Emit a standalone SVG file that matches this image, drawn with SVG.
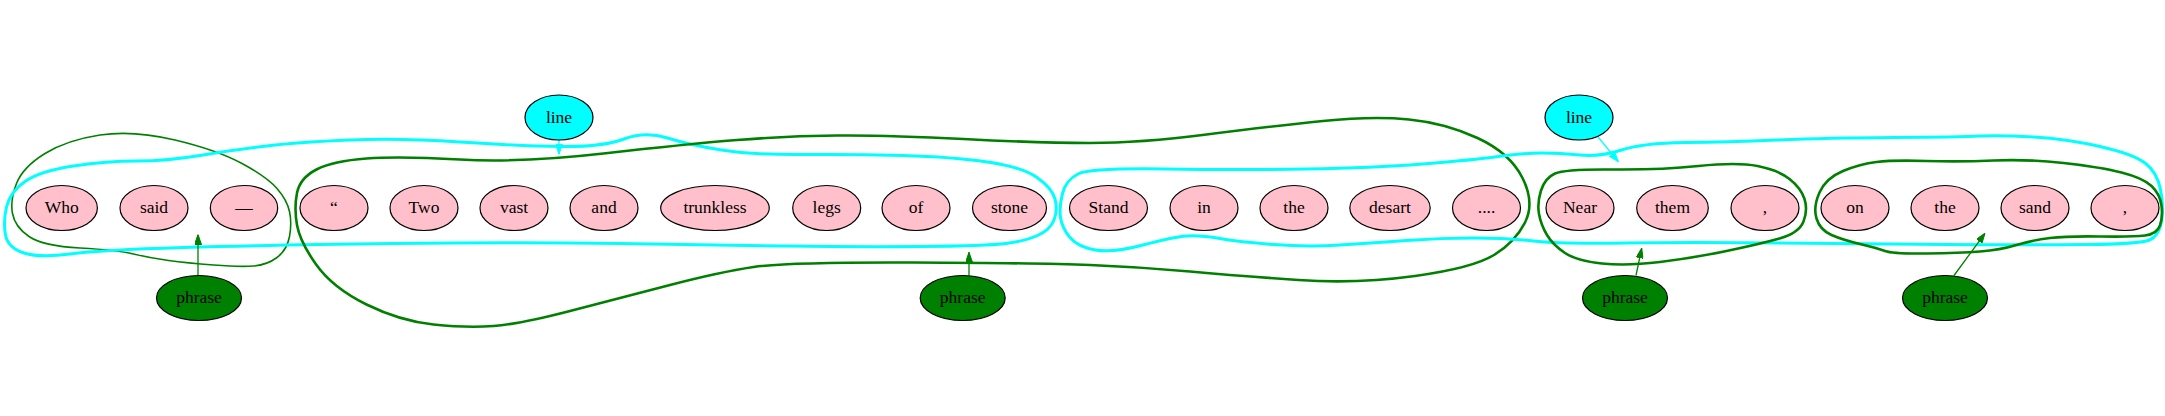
<svg xmlns="http://www.w3.org/2000/svg" width="2165" height="416" viewBox="0 0 2165 416">
<style>
text{font-family:"Liberation Serif","Times New Roman",serif;font-size:17.5px;text-anchor:middle;fill:#000}
.w ellipse{fill:#ffc0cb;stroke:#000;stroke-width:1.2}
.l ellipse{fill:#00ffff;stroke:#000;stroke-width:1.2}
.p ellipse{fill:#008000;stroke:#000;stroke-width:1.2}
.hc{fill:none;stroke:#00ffff;stroke-width:3}
.hg{fill:none;stroke:#008000;stroke-width:2.6}
.hg1{fill:none;stroke:#008000;stroke-width:1.6}
.eg{stroke:#008000;stroke-width:1.3;fill:none}
.ec{stroke:#00ffff;stroke-width:1.3;fill:none}
</style>
<defs>
<marker id="ag" viewBox="0 0 10 7" markerWidth="10" markerHeight="7" refX="10" refY="3.5" orient="auto" markerUnits="userSpaceOnUse"><path d="M0,0 L10,3.5 L0,7 z" fill="#008000" stroke="#008000"/></marker>
<marker id="ac" viewBox="0 0 10 7" markerWidth="10" markerHeight="7" refX="10" refY="3.5" orient="auto" markerUnits="userSpaceOnUse"><path d="M0,0 L10,3.5 L0,7 z" fill="#00ffff" stroke="#00ffff"/></marker>
</defs>
<g id="hulls">
<path class="hg1" d="M16.5,183.5 Q23,167 45,153.5 Q67,140 100,135 Q133,130 175,140 Q217,150 242,163.5 Q267,177 277,188.5 Q287,200 289.5,211.5 Q292,223 289.5,236.5 Q287,250 277,257.5 Q267,265 253.5,266 Q240,267 213.5,265 Q187,263 168.5,260.5 Q150,258 133.5,254 Q117,250 80,248 Q43,246 29,236.5 Q15,227 12.5,213.5 Q10,200 16.5,183.5 Z"/>
<path class="hc" d="M6.5,207 Q10,192 25,181.5 Q40,171 73.5,166 Q107,161 137,161 Q167,161 200,155.5 Q233,150 266.5,146 Q300,142 350,140 Q400,138 460,142 Q520,146 561.5,146.5 Q603,147 624,139 Q645,131 667.5,138 Q690,145 721.5,150 Q753,155 803,154.5 Q853,154 903,155.5 Q953,157 987.5,162 Q1022,167 1037,177.5 Q1052,188 1055,199 Q1058,210 1054,220 Q1050,230 1037.5,235.5 Q1025,241 1006,243.5 Q987,246 920,246.5 Q853,247 786.5,246 Q720,245 620,243.5 Q520,242 393.5,243.5 Q267,245 183.5,247.5 Q100,250 70,254 Q40,258 24,253 Q8,248 5.5,235 Q3,222 6.5,207 Z"/>
<path class="hg" d="M297,193 Q300,178 316.5,169.5 Q333,161 366.5,158.5 Q400,156 460,159.5 Q520,163 603.5,153.5 Q687,144 737,140 Q787,136 837,135.5 Q887,135 963.5,139 Q1040,143 1090,143 Q1140,143 1206.5,134.5 Q1273,126 1323,121 Q1373,116 1409,119.5 Q1445,123 1477.5,138 Q1510,153 1522.5,178 Q1535,203 1525,222.5 Q1515,242 1494,255 Q1473,268 1415,276 Q1357,284 1298.5,280 Q1240,276 1190,271.5 Q1140,267 1090,265 Q1040,263 913.5,262.5 Q787,262 753.5,267 Q720,272 670,285 Q620,298 570,311 Q520,324 493.5,326 Q467,328 433.5,324.5 Q400,321 366.5,304.5 Q333,288 316.5,265 Q300,242 297,225 Q294,208 297,193 Z"/>
<path class="hc" d="M1062.5,193.5 Q1066,180 1078,174 Q1090,168 1165,169 Q1240,170 1306.5,169 Q1373,168 1423,164 Q1473,160 1498,156.5 Q1523,153 1541.5,153 Q1560,153 1580,155 Q1600,157 1621.5,150 Q1643,143 1685,142.5 Q1727,142 1777,140 Q1827,138 1893.5,137.5 Q1960,137 1980,136 Q2000,135 2033.5,137 Q2067,139 2100,146.5 Q2133,154 2145,163 Q2157,172 2160.5,189.5 Q2164,207 2161.5,221.5 Q2159,236 2149.5,240 Q2140,244 2086.5,244.5 Q2033,245 1946.5,244.5 Q1860,244 1776.5,243 Q1693,242 1626.5,243 Q1560,244 1533.5,241 Q1507,238 1473.5,238 Q1440,238 1406.5,240.5 Q1373,243 1340,245 Q1307,247 1273.5,244.5 Q1240,242 1220,238.5 Q1200,235 1186.5,236 Q1173,237 1143,245 Q1113,253 1095.5,250 Q1078,247 1070,237.5 Q1062,228 1060.5,217.5 Q1059,207 1062.5,193.5 Z"/>
<path class="hg" d="M1541,190.5 Q1545,178 1555,173.5 Q1565,169 1612.5,169.5 Q1660,170 1698.5,166 Q1737,162 1757.5,166 Q1778,170 1789.5,179 Q1801,188 1804.5,199 Q1808,210 1803.5,221.5 Q1799,233 1779.5,238.5 Q1760,244 1726.5,251 Q1693,258 1660,262 Q1627,266 1602,263.5 Q1577,261 1565,253 Q1553,245 1547,235 Q1541,225 1539,214 Q1537,203 1541,190.5 Z"/>
<path class="hg" d="M1819.5,192.5 Q1826,178 1843,171 Q1860,164 1876.5,162 Q1893,160 1926.5,161 Q1960,162 1993.5,160.5 Q2027,159 2063.5,163 Q2100,167 2121.5,172.5 Q2143,178 2151.5,186 Q2160,194 2161.5,205.5 Q2163,217 2160,225.5 Q2157,234 2145,235.5 Q2133,237 2100,236.5 Q2067,236 2050,238 Q2033,240 2016.5,245 Q2000,250 1980,251.5 Q1960,253 1926.5,253.5 Q1893,254 1885,251 Q1877,248 1860,244 Q1843,240 1831.5,235 Q1820,230 1816.5,218.5 Q1813,207 1819.5,192.5 Z"/>
</g>
<g id="connectors">
<line class="eg" x1="198" y1="275.5" x2="198" y2="234.5" marker-end="url(#ag)"/>
<line class="eg" x1="969" y1="275.5" x2="969" y2="252.3" marker-end="url(#ag)"/>
<line class="eg" x1="1636" y1="275.5" x2="1641.7" y2="248.3" marker-end="url(#ag)"/>
<line class="eg" x1="1954" y1="275.5" x2="1985" y2="233.3" marker-end="url(#ag)"/>
<line class="ec" x1="559" y1="140" x2="559" y2="154.3" marker-end="url(#ac)"/>
<line class="ec" x1="1598" y1="137" x2="1618.3" y2="161.7" marker-end="url(#ac)"/>
</g>
<g id="n_who" class="w"><ellipse cx="61.7" cy="208" rx="35.7" ry="22.5"/><text x="61.7" y="213">Who</text></g>
<g id="n_said" class="w"><ellipse cx="154" cy="208" rx="34" ry="22.5"/><text x="154" y="213">said</text></g>
<g id="n_dash" class="w"><ellipse cx="244" cy="208" rx="33.7" ry="22.5"/><text x="244" y="213">—</text></g>
<g id="n_quote" class="w"><ellipse cx="334" cy="208" rx="34" ry="22.5"/><text x="334" y="213">“</text></g>
<g id="n_two" class="w"><ellipse cx="424" cy="208" rx="34" ry="22.5"/><text x="424" y="213">Two</text></g>
<g id="n_vast" class="w"><ellipse cx="514" cy="208" rx="34" ry="22.5"/><text x="514" y="213">vast</text></g>
<g id="n_and" class="w"><ellipse cx="604" cy="208" rx="34" ry="22.5"/><text x="604" y="213">and</text></g>
<g id="n_trunkless" class="w"><ellipse cx="715" cy="208" rx="54.3" ry="22.5"/><text x="715" y="213">trunkless</text></g>
<g id="n_legs" class="w"><ellipse cx="826.7" cy="208" rx="34" ry="22.5"/><text x="826.7" y="213">legs</text></g>
<g id="n_of" class="w"><ellipse cx="916" cy="208" rx="34" ry="22.5"/><text x="916" y="213">of</text></g>
<g id="n_stone" class="w"><ellipse cx="1009.5" cy="208" rx="37" ry="22.5"/><text x="1009.5" y="213">stone</text></g>
<g id="n_stand" class="w"><ellipse cx="1108.5" cy="208" rx="39" ry="22.5"/><text x="1108.5" y="213">Stand</text></g>
<g id="n_in" class="w"><ellipse cx="1204" cy="208" rx="34" ry="22.5"/><text x="1204" y="213">in</text></g>
<g id="n_the1" class="w"><ellipse cx="1294" cy="208" rx="34" ry="22.5"/><text x="1294" y="213">the</text></g>
<g id="n_desart" class="w"><ellipse cx="1390" cy="208" rx="40.2" ry="22.5"/><text x="1390" y="213">desart</text></g>
<g id="n_dots" class="w"><ellipse cx="1486.5" cy="208" rx="34" ry="22.5"/><text x="1486.5" y="213">....</text></g>
<g id="n_near" class="w"><ellipse cx="1580" cy="208" rx="34" ry="22.5"/><text x="1580" y="213">Near</text></g>
<g id="n_them" class="w"><ellipse cx="1672.5" cy="208" rx="35.8" ry="22.5"/><text x="1672.5" y="213">them</text></g>
<g id="n_comma1" class="w"><ellipse cx="1765" cy="208" rx="34" ry="22.5"/><text x="1765" y="213">,</text></g>
<g id="n_on" class="w"><ellipse cx="1855" cy="208" rx="34" ry="22.5"/><text x="1855" y="213">on</text></g>
<g id="n_the2" class="w"><ellipse cx="1945" cy="208" rx="34" ry="22.5"/><text x="1945" y="213">the</text></g>
<g id="n_sand" class="w"><ellipse cx="2035" cy="208" rx="34" ry="22.5"/><text x="2035" y="213">sand</text></g>
<g id="n_comma2" class="w"><ellipse cx="2125" cy="208" rx="34" ry="22.5"/><text x="2125" y="213">,</text></g>
<g id="n_line1" class="l"><ellipse cx="559" cy="117.5" rx="34" ry="22.5"/><text x="559" y="122.5">line</text></g>
<g id="n_line2" class="l"><ellipse cx="1579" cy="117.5" rx="34" ry="22.5"/><text x="1579" y="122.5">line</text></g>
<g id="n_phrase1" class="p"><ellipse cx="199" cy="298" rx="42.5" ry="22.5"/><text x="199" y="303">phrase</text></g>
<g id="n_phrase2" class="p"><ellipse cx="962.7" cy="298" rx="42.5" ry="22.5"/><text x="962.7" y="303">phrase</text></g>
<g id="n_phrase3" class="p"><ellipse cx="1625" cy="298" rx="42.5" ry="22.5"/><text x="1625" y="303">phrase</text></g>
<g id="n_phrase4" class="p"><ellipse cx="1945" cy="298" rx="42.5" ry="22.5"/><text x="1945" y="303">phrase</text></g>
</svg>
